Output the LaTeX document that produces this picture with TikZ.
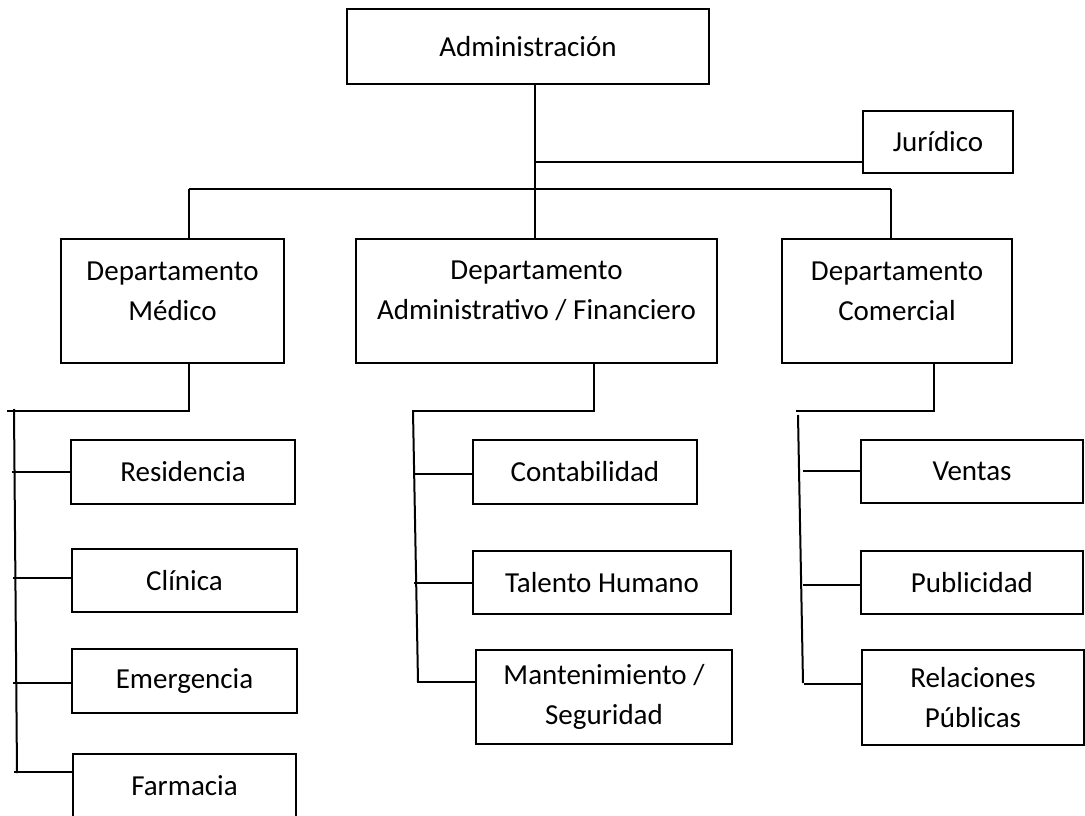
\documentclass[tikz,border=0pt]{standalone}
\usepackage{fontspec}
\setmainfont{Carlito}
\usepackage{tikz}
\usetikzlibrary{positioning}

\begin{document}
\begin{tikzpicture}[x=1pt,y=-1pt,line width=2pt,
        font=\fontsize{29}{40}\selectfont,
        box/.style={draw,line width=2.2pt,inner sep=0pt,align=center},
        dept/.style={box,minimum height=124}]
        \useasboundingbox (0,0) rectangle (1085,816);
        \clip (0,0) rectangle (1085,816);
        \node[box,minimum width=362,minimum height=75] (adm) at (528,46.5) {Administración};
        \node[box,minimum width=150,minimum height=62] (jur) at (938,142) {Jurídico};
        \node[dept,minimum width=223,label={[name=medT,align=center,yshift=10]center:{Departamento\\Médico}}] (med) at (172.5,301) {};
        \node[dept,minimum width=361,label={[name=adfT,align=center,yshift=10]center:{Departamento\\Administrativo / Financiero}}] (adf) at (536.5,301) {};
        \node[dept,minimum width=230,label={[name=comT,align=center,yshift=10]center:{Departamento\\Comercial}}] (com) at (897,301) {};

        \node[box,minimum width=224,minimum height=64] (res) at (183,472) {Residencia};
        \node[box,minimum width=225,minimum height=63] (cli) at (184.5,580.5) {Clínica};
        \node[box,minimum width=225,minimum height=64] (eme) at (184.5,681) {Emergencia};
        \node[box,minimum width=223,minimum height=64] (far) at (184.5,786) {Farmacia};

        \node[box,minimum width=224,minimum height=64] (con) at (585,472) {Contabilidad};
        \node[box,minimum width=258,minimum height=63] (tal) at (602,582.5) {Talento Humano};
        \node[box,minimum width=256,minimum height=94] (man) at (604,697) {Mantenimiento /\\Seguridad};

        \node[box,minimum width=222,minimum height=63] (ven) at (972,471.5) {Ventas};
        \node[box,minimum width=222,minimum height=63] (pub) at (972,582.5) {Publicidad};
        \node[box,minimum width=222,minimum height=95] (rel) at (973,697.5) {Relaciones\\Públicas};

        \coordinate (bl) at (189,189);
        \coordinate (bc) at (535,189);
        \coordinate (br) at (891,189);
        \draw (bc |- adm.south) -- (bc |- adf.north);
        \draw (bc |- jur.west) ++(0,20) coordinate (jl) -- ([yshift=-20]jur.west);
        \draw (bl) -- (br);
        \draw (bl) -- (bl |- med.north);
        \draw (br) -- (br |- com.north);

        \coordinate (mt) at (189,411);
        \coordinate (ml) at (7,411);
        \draw (mt |- med.south) -- (mt) -- (ml);
        \draw (14,409) coordinate (ms1) -- (17,773) coordinate (ms2);
        \foreach \n/\dy in {res/0,cli/3,eme/-2,far/14}
            \draw ([yshift=\dy]\n.west) -- ++(-58,0);

        \coordinate (at) at (594,411);
        \coordinate (al) at (412,411);
        \draw (at |- adf.south) -- (at) -- (al);
        \draw (413,411) coordinate (as1) -- (418,682) coordinate (as2);
        \foreach \n/\dy in {con/-2,tal/0,man/15}
            \draw ([yshift=\dy]\n.west) -- ++(-58,0);

        \coordinate (ct) at (934,411);
        \coordinate (cl) at (796,411);
        \draw (ct |- com.south) -- (ct) -- (cl);
        \draw (798,415) coordinate (cs1) -- (803,683) coordinate (cs2);
        \foreach \n/\dy in {ven/1,pub/-2,rel/14}
            \draw ([yshift=\dy]\n.west) -- ++(-57,0);
\end{tikzpicture}
\end{document}
